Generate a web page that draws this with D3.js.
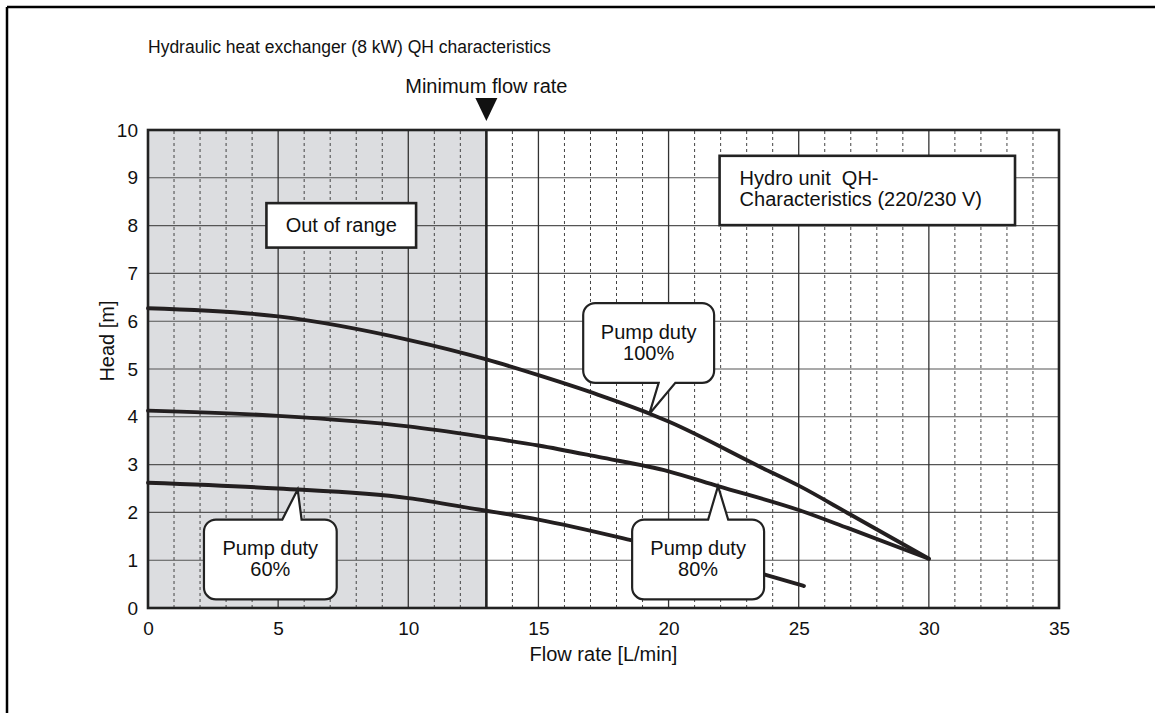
<!DOCTYPE html>
<html>
<head>
<meta charset="utf-8">
<script src="https://cdn.jsdelivr.net/npm/d3@7/dist/d3.min.js"></script>
<style>
  body { margin: 0; background: #fff; }
  svg { display: block; font-family: "Liberation Sans", Arial, Helvetica, sans-serif; }
</style>
</head>
<body>
<svg id="chart" width="1155" height="713"></svg>
<script>
// values
const flow100 = [0, 5, 10, 13, 15, 17.3, 19.3, 20, 23.6, 25, 27, 30];
const head100 = [6.27, 6.10, 5.61, 5.20, 4.87, 4.46, 4.06, 3.90, 2.93, 2.56, 1.95, 1.03];

const flow80 = [0, 5, 10, 13, 15, 17.3, 20, 21.9, 25, 26.9, 30];
const head80 = [4.13, 4.02, 3.80, 3.57, 3.40, 3.16, 2.86, 2.55, 2.05, 1.67, 1.03];

const flow60 = [0, 5, 10, 12.7, 15, 18.55, 23.7, 25.2];
const head60 = [2.62, 2.50, 2.30, 2.06, 1.85, 1.42, 0.70, 0.46];

const minFlow = 13;
const xTicks = [0, 5, 10, 15, 20, 25, 30, 35];
const yTicks = [0, 1, 2, 3, 4, 5, 6, 7, 8, 9, 10];

const dutyLabels = ["100%", "80%", "60%"];
// callout tip on each curve [flow, head]
const dutyTips = [[19.26, 4.06], [21.9, 2.55], [5.75, 2.48]];

const svg = d3.select("#chart");
const x = d3.scaleLinear().domain([0, 35]).range([148, 1059]);
const y = d3.scaleLinear().domain([0, 10]).range([608, 130]);

// outer frame (top and left only visible)
svg.append("line").attr("x1", 7).attr("y1", 7).attr("x2", 1155).attr("y2", 7)
    .attr("stroke", "#000").attr("stroke-width", 2.5);
svg.append("line").attr("x1", 7).attr("y1", 7).attr("x2", 7).attr("y2", 713)
    .attr("stroke", "#000").attr("stroke-width", 2.5);

// out of range shading
svg.append("rect")
    .attr("x", x(0)).attr("y", y(10))
    .attr("width", x(minFlow) - x(0)).attr("height", y(0) - y(10))
    .attr("fill", "#dcdde0");

const grid = svg.append("g");
d3.range(1, 10).forEach(v => {
    grid.append("line")
        .attr("x1", x(0)).attr("x2", x(35)).attr("y1", y(v)).attr("y2", y(v))
        .attr("stroke", "#555").attr("stroke-width", 1.1);
});
d3.range(1, 35).forEach(v => {
    const major = v % 5 === 0;
    grid.append("line")
        .attr("x1", x(v)).attr("x2", x(v)).attr("y1", y(0)).attr("y2", y(10))
        .attr("stroke", major ? "#333" : "#444")
        .attr("stroke-width", major ? 1.3 : 1)
        .attr("stroke-dasharray", major ? null : "3,3");
});

// minimum flow line
svg.append("line")
    .attr("x1", x(minFlow)).attr("x2", x(minFlow)).attr("y1", y(0)).attr("y2", y(10))
    .attr("stroke", "#222").attr("stroke-width", 2.6);

// plot frame
svg.append("rect")
    .attr("x", x(0)).attr("y", y(10))
    .attr("width", x(35) - x(0)).attr("height", y(0) - y(10))
    .attr("fill", "none").attr("stroke", "#222").attr("stroke-width", 2.6);

// curves
const line = d3.line().x(d => x(d[0])).y(d => y(d[1])).curve(d3.curveMonotoneX);
[[flow100, head100], [flow80, head80], [flow60, head60]].forEach(([f, h]) => {
    svg.append("path")
        .datum(f.map((v, i) => [v, h[i]]))
        .attr("d", line)
        .attr("fill", "none")
        .attr("stroke", "#231f20")
        .attr("stroke-width", 3.9)
        .attr("stroke-linecap", "round")
        .attr("stroke-linejoin", "round");
});

// callout shape: rounded box with a pointer on top or bottom
function calloutPath(x0, y0, x1, y1, r, b0, b1, tx, ty, side) {
    const p = d3.path();
    p.moveTo(x0 + r, y0);
    if (side === "top") { p.lineTo(b0, y0); p.lineTo(tx, ty); p.lineTo(b1, y0); }
    p.lineTo(x1 - r, y0);
    p.arcTo(x1, y0, x1, y0 + r, r);
    p.lineTo(x1, y1 - r);
    p.arcTo(x1, y1, x1 - r, y1, r);
    if (side === "bottom") { p.lineTo(b1, y1); p.lineTo(tx, ty); p.lineTo(b0, y1); }
    p.lineTo(x0 + r, y1);
    p.arcTo(x0, y1, x0, y1 - r, r);
    p.lineTo(x0, y0 + r);
    p.arcTo(x0, y0, x0 + r, y0, r);
    p.closePath();
    return p.toString();
}

// box [flow0, flow1, headTop, headBottom] and pointer base [flow0, flow1]
const calloutBoxes = [[16.72, 21.75, 6.38, 4.71], [18.6, 23.67, 1.85, 0.18], [2.15, 7.25, 1.85, 0.18]];
const calloutBases = [[19.62, 20.26], [21.52, 22.29], [5.16, 5.9]];
const calloutSides = ["bottom", "top", "top"];

dutyLabels.forEach((lab, i) => {
    const [f0, f1, h0, h1] = calloutBoxes[i];
    const [b0, b1] = calloutBases[i];
    const [tf, th] = dutyTips[i];
    const g = svg.append("g");
    g.append("path")
        .attr("d", calloutPath(x(f0), y(h0), x(f1), y(h1), 12, x(b0), x(b1), x(tf), y(th), calloutSides[i]))
        .attr("fill", "#fff").attr("stroke", "#222").attr("stroke-width", 2.2)
        .attr("stroke-linejoin", "miter");
    const cx = (x(f0) + x(f1)) / 2, cy = (y(h0) + y(h1)) / 2;
    g.append("text").attr("x", cx).attr("y", cy - 4).attr("text-anchor", "middle")
        .attr("font-size", 20).attr("fill", "#111").text("Pump duty");
    g.append("text").attr("x", cx).attr("y", cy + 17).attr("text-anchor", "middle")
        .attr("font-size", 20).attr("fill", "#111").text(lab);
});

// square labels
const outBox = [4.55, 10.3, 8.47, 7.54];
svg.append("rect")
    .attr("x", x(outBox[0])).attr("y", y(outBox[2]))
    .attr("width", x(outBox[1]) - x(outBox[0])).attr("height", y(outBox[3]) - y(outBox[2]))
    .attr("fill", "#fff").attr("stroke", "#222").attr("stroke-width", 2.6);
svg.append("text")
    .attr("x", (x(outBox[0]) + x(outBox[1])) / 2).attr("y", (y(outBox[2]) + y(outBox[3])) / 2 + 7)
    .attr("text-anchor", "middle").attr("font-size", 20).attr("fill", "#111").text("Out of range");

const hydroBox = [21.96, 33.31, 9.46, 8.01];
svg.append("rect")
    .attr("x", x(hydroBox[0])).attr("y", y(hydroBox[2]))
    .attr("width", x(hydroBox[1]) - x(hydroBox[0])).attr("height", y(hydroBox[3]) - y(hydroBox[2]))
    .attr("fill", "#fff").attr("stroke", "#222").attr("stroke-width", 2.6);
const hydroText = svg.append("text").attr("font-size", 20).attr("fill", "#111")
    .style("white-space", "pre");
hydroText.append("tspan").attr("x", x(hydroBox[0]) + 20).attr("y", y(hydroBox[2]) + 29).text("Hydro unit  QH-");
hydroText.append("tspan").attr("x", x(hydroBox[0]) + 20).attr("y", y(hydroBox[2]) + 50).text("Characteristics (220/230 V)");

// axes
const xAxis = svg.append("g").attr("transform", `translate(0,${y(0)})`)
    .call(d3.axisBottom(x).tickValues(xTicks).tickSize(0).tickPadding(14));
const yAxis = svg.append("g").attr("transform", `translate(${x(0)},0)`)
    .call(d3.axisLeft(y).tickValues(yTicks).tickSize(0).tickPadding(10));
[xAxis, yAxis].forEach(a => {
    a.select(".domain").remove();
    a.selectAll("text").attr("font-size", 19).attr("fill", "#111")
        .attr("font-family", "'Liberation Sans', Arial, sans-serif");
});

// titles
svg.append("text").attr("x", 148).attr("y", 53).attr("font-size", 17.5).attr("fill", "#111")
    .text("Hydraulic heat exchanger (8 kW) QH characteristics");
svg.append("text").attr("x", x(minFlow)).attr("y", 93).attr("text-anchor", "middle")
    .attr("font-size", 20).attr("fill", "#111").text("Minimum flow rate");
svg.append("path")
    .attr("d", `M${x(minFlow) - 11},98 L${x(minFlow) + 11},98 L${x(minFlow)},121 Z`)
    .attr("fill", "#111");
svg.append("text").attr("x", (x(0) + x(35)) / 2).attr("y", 661).attr("text-anchor", "middle")
    .attr("font-size", 20).attr("fill", "#111").text("Flow rate [L/min]");
svg.append("text").attr("transform", `translate(114,341) rotate(-90)`).attr("text-anchor", "middle")
    .attr("font-size", 20).attr("fill", "#111").text("Head [m]");
</script>
</body>
</html>
